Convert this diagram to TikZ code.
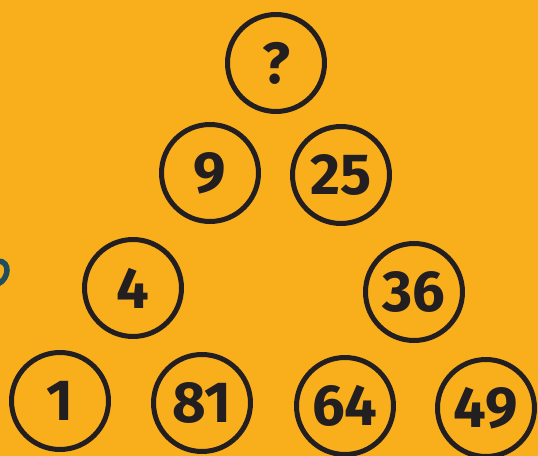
\documentclass[tikz,border=0pt]{standalone}
\usepackage{fontspec}
\setmainfont{Fira Sans}
\usepackage{tikz}
\usepackage{xcolor}
\usetikzlibrary{positioning}
\definecolor{Bg}{HTML}{F9AE1B}
\definecolor{Ink}{HTML}{231F20}
\definecolor{Teal}{HTML}{1F4F5E}

\begin{document}
\begin{tikzpicture}[x=0.02cm,y=-0.02cm,
  ball/.style={circle,draw=Ink,line width=0.1cm,minimum size=1.94cm,inner sep=0pt,
    text=Ink,font=\fontsize{33}{33}\selectfont\bfseries}]
  \fill[Bg] (0,0) rectangle (538,456);
  \useasboundingbox (0,0) rectangle (538,456);
  \draw[Teal,line width=0.11cm,line cap=round] (-2,261) .. controls (11,261) and (9,279) .. (-2,284);
  \node[ball] (top) at (276,63) {?};
  \node[ball] (nine) at (210,173) {9};
  \node[ball] (tfive) at (341,175) {25};
  \node[ball] (four) at (133,288) {4};
  \node[ball] (tsix) at (414,292) {36};
  \node[ball] (one) at (60,401) {1};
  \node[ball] (eone) at (202,403) {81};
  \node[ball] (sfour) at (345,406) {64};
  \node[ball] (nnine) at (486,408) {49};
\end{tikzpicture}
\end{document}
